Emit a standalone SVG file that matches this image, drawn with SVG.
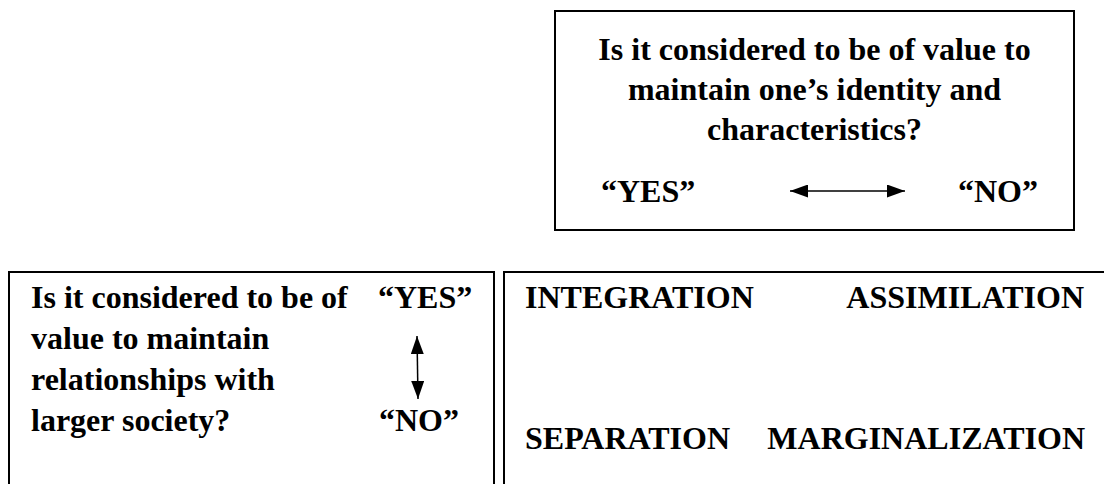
<svg xmlns="http://www.w3.org/2000/svg" width="1104" height="484" viewBox="0 0 1104 484">
<style>
.box{fill:none;stroke:#000;stroke-width:2}
.t{font-weight:bold;font-size:32px;fill:#000}
.c{text-anchor:middle}
.e{text-anchor:end}
.ln{stroke:#000;stroke-width:1.5;fill:none}
</style>
<defs>
<marker id="ah" viewBox="0 0 10 10" refX="10" refY="5" markerWidth="18" markerHeight="13" markerUnits="userSpaceOnUse" orient="auto-start-reverse" preserveAspectRatio="none">
<path d="M0,0 L10,5 L0,10 Z" fill="#000"/>
</marker>
</defs>
<rect width="1104" height="484" fill="#fff"/>
<g font-family="'Liberation Serif', Tinos, 'Times New Roman', 'DejaVu Serif', serif">
<g id="identity-question">
<rect class="box" x="555" y="11" width="519" height="219"/>
<text class="t c" x="814.5" y="60">Is it considered to be of value to</text>
<text class="t c" x="814.5" y="100">maintain one’s identity and</text>
<text class="t c" x="814.5" y="140">characteristics?</text>
<text class="t" x="601" y="202">“YES”</text>
<text class="t" x="958" y="202">“NO”</text>
</g>
<g id="relationship-question">
<rect class="box" x="9" y="272" width="485" height="230"/>
<text class="t" x="31" y="308">Is it considered to be of</text>
<text class="t" x="31" y="349">value to maintain</text>
<text class="t" x="31" y="390">relationships with</text>
<text class="t" x="31" y="431">larger society?</text>
<text class="t" x="378" y="308">“YES”</text>
<text class="t" x="379" y="431">“NO”</text>
</g>
<g id="strategies">
<rect class="box" x="504" y="272" width="620" height="230"/>
<text class="t" x="525" y="308">INTEGRATION</text>
<text class="t e" x="1084" y="308">ASSIMILATION</text>
<text class="t" x="525" y="449">SEPARATION</text>
<text class="t e" x="1085" y="449">MARGINALIZATION</text>
</g>
</g>
<g id="connectors">
<line class="ln" x1="790" y1="191" x2="905" y2="191" marker-start="url(#ah)" marker-end="url(#ah)"/>
<line class="ln" x1="417" y1="336" x2="418" y2="399" marker-start="url(#ah)" marker-end="url(#ah)"/>
</g>
</svg>
